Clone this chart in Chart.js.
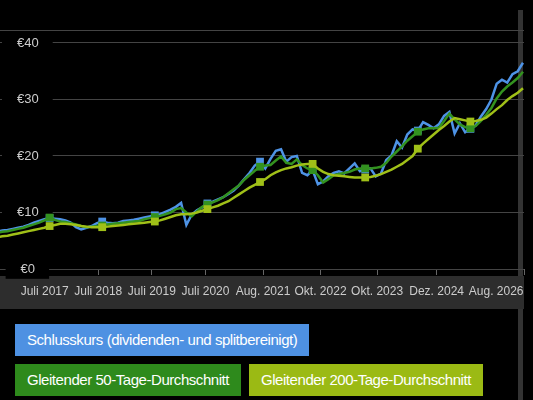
<!DOCTYPE html>
<html>
<head>
<meta charset="utf-8">
<script src="https://cdn.jsdelivr.net/npm/chart.js@4.4.1/dist/chart.umd.min.js"></script>
<style>
html, body { margin: 0; padding: 0; background: #000; width: 533px; height: 400px; overflow: hidden; font-family: "Liberation Sans", Arial, sans-serif; }
#bar { position: absolute; left: 518px; top: 10px; width: 5px; height: 390px; background: #333; z-index: 0; }
#wrap { position: relative; width: 533px; height: 310px; z-index: 1; }
#legend { position: relative; z-index: 1; padding: 14px 0 0 15px; }
.row { display: flex; margin-bottom: 8px; }
.btn { color: #fff; font-size: 15px; letter-spacing: -0.45px; line-height: 16px; padding: 8px 12px; margin-right: 8px; white-space: nowrap; }
</style>
</head>
<body>
<div id="bar"></div>
<div id="wrap"><canvas id="kurs"></canvas></div>
<div id="legend">
  <div class="row"><span class="btn" style="background:#4e91e2">Schlusskurs (dividenden- und splitbereinigt)</span></div>
  <div class="row">
    <span class="btn" style="background:#2e8a1c">Gleitender 50-Tage-Durchschnitt</span>
    <span class="btn" style="background:#9bba14">Gleitender 200-Tage-Durchschnitt</span>
  </div>
</div>
<script>
// x-Achse: Datenpunkte 0..100, Beschriftungen an festen Stellen
var tickPos = [9.06, 19.25, 29.43, 39.62, 50.57, 61.51, 72.26, 83.58, 94.9];
var tickLabels = ['Juli 2017', 'Juli 2018', 'Juli 2019', 'Juli 2020', 'Aug. 2021', 'Okt. 2022', 'Okt. 2023', 'Dez. 2024', 'Aug. 2026'];
var yTicks = [0, 10, 20, 30, 40];

var schluss = [6.6, 6.8, 6.9, 7.1, 7.3, 7.5, 7.8, 8.2, 8.5, 8.8,
  9.0, 8.9, 8.8, 8.6, 8.2, 7.4, 7.0, 7.3, 7.6, 8.1,
  8.4, 8.2, 8.1, 8.2, 8.5, 8.6, 8.7, 8.9, 9.1, 9.3,
  9.5, 9.7, 10.1, 10.5, 11.0, 11.7, 7.8, 9.6, 10.4, 10.9,
  11.6, 11.9, 12.3, 12.7, 13.3, 13.9, 14.8, 15.9, 17.0, 18.3,
  19.0, 17.8, 19.5, 20.9, 21.2, 19.0, 19.8, 20.0, 17.0, 16.6,
  17.5, 15.0, 15.5, 16.4, 17.0, 17.3, 16.9, 17.8, 18.7, 17.3,
  17.6, 17.8, 16.4, 16.9, 19.3, 20.1, 22.6, 21.5, 23.8, 24.7,
  24.5, 26.0, 25.5, 24.9, 25.6, 27.1, 27.8, 24.0, 25.8, 24.2,
  24.8, 25.4, 27.0, 28.3, 30.0, 32.8, 33.5, 33.0, 34.5, 35.0,
  36.5];

var gd50 = [6.4, 6.6, 6.7, 6.9, 7.1, 7.3, 7.6, 7.9, 8.2, 8.6,
  9.1, 8.7, 8.4, 8.3, 8.1, 7.9, 7.6, 7.4, 7.5, 7.6,
  7.7, 7.9, 8.0, 8.1, 8.2, 8.3, 8.4, 8.5, 8.8, 9.0,
  9.2, 9.4, 9.7, 10.0, 10.6, 10.8, 10.0, 9.3, 10.2, 11.0,
  11.4, 11.8, 12.2, 12.7, 13.4, 14.1, 14.8, 15.8, 16.6, 17.4,
  18.1, 18.3, 18.4, 19.2, 19.9, 18.8, 18.6, 19.4, 18.4, 17.8,
  17.5, 16.6, 15.3, 15.9, 16.6, 16.8, 17.0, 17.2, 17.6, 17.8,
  17.8, 17.8, 17.9, 18.1, 18.8, 19.9, 20.8, 21.7, 22.7, 23.5,
  24.3, 24.7, 24.9, 24.9, 25.0, 26.2, 27.5, 26.5, 25.6, 25.1,
  24.9, 25.3, 26.2, 27.3, 28.5, 30.2, 31.4, 32.3, 33.0, 33.8,
  34.9];

var gd200 = [5.6, 5.8, 5.9, 6.1, 6.3, 6.5, 6.7, 6.9, 7.1, 7.3,
  7.6, 7.8, 8.0, 8.0, 7.9, 7.8, 7.6, 7.5, 7.4, 7.4,
  7.4, 7.5, 7.6, 7.7, 7.8, 7.9, 8.0, 8.1, 8.2, 8.3,
  8.4, 8.6, 8.9, 9.2, 9.5, 9.7, 9.7, 9.8, 10.0, 10.3,
  10.6, 10.9, 11.2, 11.6, 12.0, 12.6, 13.2, 13.8, 14.4, 14.9,
  15.4, 15.9, 16.6, 17.1, 17.5, 17.8, 18.0, 18.3, 18.5, 18.6,
  18.6, 17.8, 17.2, 16.8, 16.6, 16.5, 16.4, 16.3, 16.2, 16.2,
  16.2, 16.3, 16.5, 16.8, 17.2, 17.6, 18.1, 18.6, 19.3, 20.0,
  21.3, 22.2, 23.0, 23.8, 24.6, 25.3, 26.1, 26.7, 26.5, 26.3,
  26.1, 26.2, 26.4, 26.8, 27.5, 28.3, 29.0, 29.9, 30.6, 31.2,
  32.0];

var schrift = '"Liberation Sans", Arial, sans-serif';

function punkte(arr) {
  return arr.map(function (v, i) { return { x: i, y: v }; });
}
// quadratische Marker jede 10. Stelle
function marker(ctx) {
  var i = ctx.dataIndex;
  return (i % 10 === 0 && i > 0 && i < 100) ? 5.5 : 0;
}
function reihe(label, arr, farbe, order) {
  return {
    label: label,
    data: punkte(arr),
    borderColor: farbe,
    backgroundColor: farbe,
    borderWidth: 2.5,
    pointStyle: 'rect',
    pointRadius: marker,
    pointBorderWidth: 0,
    pointBackgroundColor: farbe,
    tension: 0,
    order: order
  };
}

// grauer Streifen hinter der x-Beschriftung
var streifen = {
  id: 'streifen',
  beforeDraw: function (c) {
    var ctx = c.ctx, a = c.chartArea;
    ctx.save();
    ctx.fillStyle = '#2d2d2d';
    ctx.fillRect(0, a.bottom + 7, a.right, c.height - 1 - (a.bottom + 7));
    ctx.restore();
  }
};

var chart = new Chart(document.getElementById('kurs'), {
  type: 'line',
  data: {
    datasets: [
      reihe('Schlusskurs (dividenden- und splitbereinigt)', schluss, '#4e93e6', 3),
      reihe('Gleitender 50-Tage-Durchschnitt', gd50, '#33921f', 2),
      reihe('Gleitender 200-Tage-Durchschnitt', gd200, '#a0c018', 1)
    ]
  },
  options: {
    responsive: true,
    maintainAspectRatio: false,
    animation: false,
    layout: { padding: { top: 30, right: 5, left: 0, bottom: 0 } },
    plugins: { legend: { display: false }, tooltip: { enabled: false } },
    scales: {
      x: {
        type: 'linear',
        min: 0.566,
        max: 100.19,
        afterBuildTicks: function (s) {
          s.ticks = tickPos.map(function (v) { return { value: v }; }).concat([{ value: s.max }]);
        },
        afterFit: function (s) { s.height = 41; },
        border: { display: false },
        grid: {
          drawOnChartArea: false,
          drawTicks: true,
          tickLength: 6,
          tickColor: function (ctx) { return ctx.index === tickPos.length - 1 ? 'rgba(0,0,0,0)' : '#666'; }
        },
        ticks: {
          autoSkip: false,
          maxRotation: 0,
          padding: 9,
          color: '#cccccc',
          font: { size: 12, family: schrift },
          callback: function (v, i) { return tickLabels[i] || ''; }
        }
      },
      y: {
        min: 0,
        max: 42.3,
        afterBuildTicks: function (s) {
          s.ticks = yTicks.map(function (v) { return { value: v }; }).concat([{ value: s.max }]);
        },
        afterFit: function (s) { s.width = 0; },
        border: { display: false },
        grid: { color: '#444', drawTicks: false },
        ticks: {
          mirror: true,
          crossAlign: 'center',
          padding: 17,
          color: '#cccccc',
          font: { size: 13, family: schrift },
          showLabelBackdrop: function (ctx) { return ctx.tick.value % 10 === 0; },
          backdropColor: '#000',
          backdropPadding: { top: 2, bottom: 2, left: 15, right: 14 },
          callback: function (v) { return v % 10 === 0 ? '€' + v : ''; }
        }
      }
    }
  },
  plugins: [streifen]
});
</script>
</body>
</html>
